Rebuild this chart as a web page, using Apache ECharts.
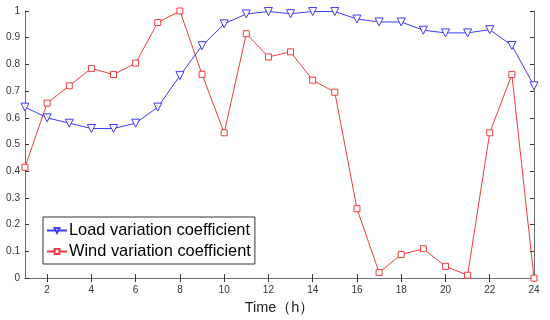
<!DOCTYPE html>
<html><head><meta charset="utf-8">
<script src="https://cdn.jsdelivr.net/npm/echarts@6/dist/echarts.min.js"></script>
<style>html,body{margin:0;padding:0;background:#fff}#c{width:550px;height:320px}</style>
</head><body><div id="c"></div>
<script>
const hours = [1,2,3,4,5,6,7,8,9,10,11,12,13,14,15,16,17,18,19,20,21,22,23,24];
const loadCoef = [0.64,0.60,0.58,0.56,0.56,0.58,0.64,0.758,0.87,0.952,0.989,0.998,0.99,0.998,0.998,0.97,0.959,0.959,0.928,0.918,0.918,0.93,0.871,0.72];
const windCoef = [0.415,0.655,0.72,0.785,0.762,0.805,0.957,1.0,0.763,0.544,0.915,0.828,0.847,0.741,0.696,0.26,0.021,0.088,0.11,0.044,0.011,0.544,0.762,0.0];
const xTicks = [2,4,6,8,10,12,14,16,18,20,22,24];
const seriesNames = ['Load variation coefficient','Wind variation coefficient'];
const xTitle = 'Time（h）';

const chart = echarts.init(document.getElementById('c'));
const axisCol = '#6e6e6e';
const font = 'Liberation Sans, Arial, sans-serif';
chart.setOption({
  animation: false,
  grid: {left: 25, right: 16, top: 11, bottom: 39},
  legend: {
    orient: 'vertical', left: 43, top: 217,
    backgroundColor: '#fff', borderColor: '#333', borderWidth: 1,
    padding: [4, 4, 3, 3], itemGap: 2, itemWidth: 20, itemHeight: 6,
    textStyle: {fontSize: 16.4, lineHeight: 19, fontFamily: font, color: '#000', padding: [0,0,0,-3]},
    data: seriesNames
  },
  xAxis: [{
    type: 'value', min: 1, max: 24, position: 'bottom',
    name: xTitle, nameLocation: 'middle', nameGap: 18,
    nameTextStyle: {fontSize: 14.5, fontFamily: font, color: '#222'},
    axisLine: {lineStyle: {color: axisCol, width: 1}},
    axisTick: {inside: true, length: 4, customValues: xTicks, lineStyle: {color: '#333'}},
    axisLabel: {customValues: xTicks, fontSize: 10, fontFamily: font, color: '#333', margin: 7},
    splitLine: {show: false}
  }, {
    type: 'value', min: 1, max: 24, position: 'top',
    axisLine: {lineStyle: {color: axisCol, width: 1}},
    axisTick: {inside: true, length: 4, customValues: xTicks, lineStyle: {color: '#333'}},
    axisLabel: {show: false}, splitLine: {show: false}
  }],
  yAxis: [{
    type: 'value', min: 0, max: 1, interval: 0.1, position: 'left',
    axisLine: {show: true, lineStyle: {color: axisCol, width: 1}},
    axisTick: {show: true, inside: true, length: 4, lineStyle: {color: '#333'}},
    axisLabel: {fontSize: 10, fontFamily: font, color: '#333', margin: 5},
    splitLine: {show: false}
  }, {
    type: 'value', min: 0, max: 1, interval: 0.1, position: 'right',
    axisLine: {show: true, lineStyle: {color: axisCol, width: 1}},
    axisTick: {show: true, inside: true, length: 4, lineStyle: {color: '#333'}},
    axisLabel: {show: false}, splitLine: {show: false}
  }],
  series: [{
    name: seriesNames[0], type: 'line',
    data: hours.map((h, i) => [h, loadCoef[i]]),
    symbol: 'triangle', symbolRotate: 180, symbolSize: 8,
    lineStyle: {color: '#3c3cf0', width: 1},
    itemStyle: {color: '#fff', borderColor: '#3c3cf0', borderWidth: 1},
    z: 3
  }, {
    name: seriesNames[1], type: 'line',
    data: hours.map((h, i) => [h, windCoef[i]]),
    symbol: 'rect', symbolSize: 6,
    lineStyle: {color: '#f03c3c', width: 1},
    itemStyle: {color: '#fff', borderColor: '#f03c3c', borderWidth: 1},
    z: 2
  }]
});
</script></body></html>
